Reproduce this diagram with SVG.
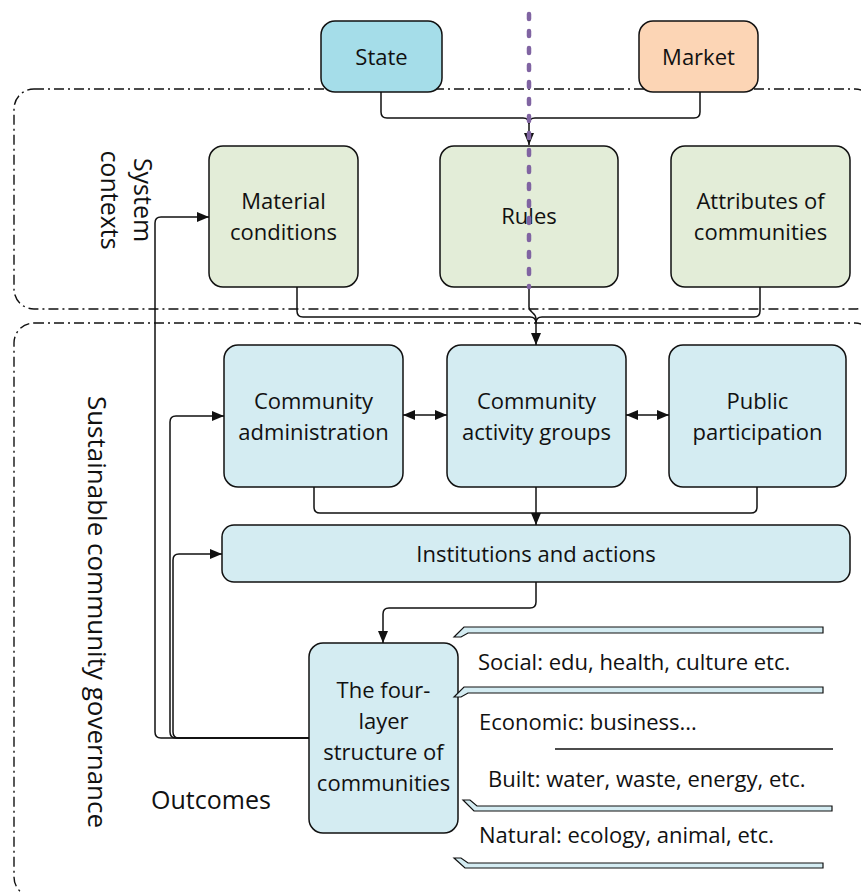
<svg xmlns="http://www.w3.org/2000/svg" width="861" height="893" viewBox="0 0 861 893">
  <style>
    text { font-family: "Open Sans", "Liberation Sans", sans-serif; fill: #111; }
    .lbl { font-size: 22px; text-anchor: middle; }
    .side { font-size: 25px; text-anchor: middle; }
    .layer { font-size: 22px; }
    .box { stroke: #111; stroke-width: 1.5; }
    .green { fill: #e3edd8; }
    .blue { fill: #d4ecf2; }
    .frame { fill: none; stroke: #111; stroke-width: 1.4; stroke-dasharray: 10 4 2 4; }
    .conn { fill: none; stroke: #111; stroke-width: 1.5; }
    .bar { fill: #d4ecf2; stroke: #111; stroke-width: 1.2; stroke-linejoin: miter; }
  </style>
  <defs>
    <marker id="arrow" viewBox="0 0 12 10" markerWidth="12" markerHeight="10" refX="12" refY="5" orient="auto-start-reverse" markerUnits="userSpaceOnUse">
      <path d="M0,0 L12,5 L0,10 z" fill="#111"/>
    </marker>
  </defs>

  <!-- dash-dot frames for the two layers -->
  <g id="frames">
    <rect class="frame" x="14" y="89" width="861" height="220" rx="20"/>
    <rect class="frame" x="14" y="323" width="861" height="574" rx="20"/>
  </g>

  <!-- side labels -->
  <g id="labels">
    <text class="side" transform="translate(134,200) rotate(90)" x="0" y="0">System</text>
    <text class="side" transform="translate(101,200) rotate(90)" x="0" y="0">contexts</text>
    <text class="side" style="font-size:26px" transform="translate(88,612) rotate(90)" x="0" y="0">Sustainable community governance</text>
    <text class="side" x="211" y="809">Outcomes</text>
  </g>

  <!-- connectors -->
  <g id="connectors">
    <path class="conn" d="M381,92 V112 Q381,118 387,118 H523 Q529,118 529,124 V145" marker-end="url(#arrow)"/>
    <path class="conn" d="M700,92 V112 Q700,118 694,118 H535 Q529,118 529,124"/>

    <path class="conn" d="M529,287 V307 C529,313 536,312 536,319 V345" marker-end="url(#arrow)"/>
    <path class="conn" d="M297,287 V311 Q297,317 303,317 H530 Q536,317 536,323"/>
    <path class="conn" d="M760,287 V311 Q760,317 754,317 H542 Q536,317 536,323"/>

    <path class="conn" d="M403,415 H447" marker-start="url(#arrow)" marker-end="url(#arrow)"/>
    <path class="conn" d="M626,415 H669" marker-start="url(#arrow)" marker-end="url(#arrow)"/>

    <path class="conn" d="M536,487 V525" marker-end="url(#arrow)"/>
    <path class="conn" d="M314,487 V507 Q314,513 320,513 H536"/>
    <path class="conn" d="M757,487 V507 Q757,513 751,513 H536"/>

    <path class="conn" d="M536,581 V602 Q536,608 530,608 H389 Q383,608 383,614 V643" marker-end="url(#arrow)"/>

    <path class="conn" d="M309,738 H161 Q155,738 155,732 V223 Q155,217 161,217 H209" marker-end="url(#arrow)"/>
    <path class="conn" d="M309,738 H176 Q170,738 170,732 V422 Q170,416 176,416 H224" marker-end="url(#arrow)"/>
    <path class="conn" d="M309,738 H179 Q173,738 173,732 V560 Q173,554 179,554 H222" marker-end="url(#arrow)"/>
  </g>

  <g id="state">
    <rect class="box" x="321" y="21" width="121" height="71" rx="14" fill="#a5dde9"/>
    <text class="lbl" x="381.5" y="65">State</text>
  </g>
  <g id="market">
    <rect class="box" x="639" y="21" width="119" height="71" rx="14" fill="#fcd5b5"/>
    <text class="lbl" x="698.5" y="65">Market</text>
  </g>

  <g id="material-conditions">
    <rect class="box green" x="209" y="146" width="149" height="141" rx="14"/>
    <text class="lbl" x="283.5" y="209">Material</text>
    <text class="lbl" x="283.5" y="240">conditions</text>
  </g>
  <g id="rules">
    <rect class="box green" x="440" y="146" width="178" height="141" rx="14"/>
    <text class="lbl" x="529" y="224">Rules</text>
  </g>
  <g id="attributes">
    <rect class="box green" x="671" y="146" width="179" height="141" rx="14"/>
    <text class="lbl" x="760.5" y="209">Attributes of</text>
    <text class="lbl" x="760.5" y="240">communities</text>
  </g>

  <!-- dotted divider between state and market sides -->
  <path id="divider" d="M529,14 V287" fill="none" stroke="#8064a2" stroke-width="4.5" stroke-linecap="round" stroke-dasharray="5 12"/>

  <g id="community-administration">
    <rect class="box blue" x="224" y="345" width="179" height="142" rx="14"/>
    <text class="lbl" x="313.5" y="409">Community</text>
    <text class="lbl" x="313.5" y="440">administration</text>
  </g>
  <g id="community-activity-groups">
    <rect class="box blue" x="447" y="345" width="179" height="142" rx="14"/>
    <text class="lbl" x="536.5" y="409">Community</text>
    <text class="lbl" x="536.5" y="440">activity groups</text>
  </g>
  <g id="public-participation">
    <rect class="box blue" x="669" y="345" width="177" height="142" rx="14"/>
    <text class="lbl" x="757.5" y="409">Public</text>
    <text class="lbl" x="757.5" y="440">participation</text>
  </g>

  <g id="institutions">
    <rect class="box blue" x="222" y="525" width="628" height="57" rx="12"/>
    <text class="lbl" x="536" y="562">Institutions and actions</text>
  </g>

  <g id="four-layer">
    <rect class="box blue" x="309" y="643" width="149" height="190" rx="14"/>
    <text class="lbl" x="383.5" y="698">The four-</text>
    <text class="lbl" x="383.5" y="729">layer</text>
    <text class="lbl" x="383.5" y="760">structure of</text>
    <text class="lbl" x="383.5" y="791">communities</text>
  </g>

  <!-- the four layers and their separators -->
  <g id="layers">
    <polygon class="bar" points="454,637 464,627 823,627 823,633 468,633 461,637"/>
    <text class="layer" x="478" y="670">Social: edu, health, culture etc.</text>
    <polygon class="bar" points="454,697 464,687 823,687 823,693 468,693 461,697"/>
    <text class="layer" x="479" y="730">Economic: business...</text>
    <path class="conn" d="M555,749 H833"/>
    <text class="layer" x="488" y="787">Built: water, waste, energy, etc.</text>
    <polygon class="bar" points="463,800 470,800 477,806 832,806 832,811 474,811"/>
    <text class="layer" x="479" y="843">Natural: ecology, animal, etc.</text>
    <polygon class="bar" points="454,858 461,858 468,863 823,863 823,868 465,868"/>
  </g>
</svg>
